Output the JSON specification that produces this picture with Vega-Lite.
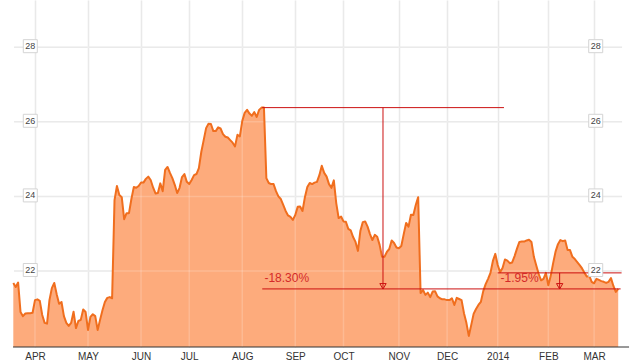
{
  "$schema": "https://vega.github.io/schema/vega-lite/v6.json",
  "width": 632,
  "height": 347,
  "autosize": {"type": "none"},
  "padding": {"left": 0, "top": 0, "right": 0, "bottom": 16},
  "background": "white",
  "config": {"view": {"stroke": null}, "font": "Liberation Sans"},
  "datasets": {
    "price": [
      {"t":0,"v":21.68},{"t":1,"v":21.57},{"t":2,"v":21.69},{"t":3,"v":20.90},{"t":4,"v":20.79},{"t":5,"v":20.86},{"t":6,"v":20.87},{"t":7,"v":20.87},{"t":8,"v":20.88},{"t":9,"v":21.22},
      {"t":10,"v":21.24},{"t":11,"v":21.20},{"t":12,"v":20.82},{"t":13,"v":20.61},{"t":14,"v":20.59},{"t":15,"v":21.22},{"t":16,"v":21.54},{"t":17,"v":21.68},{"t":18,"v":21.38},{"t":19,"v":21.12},
      {"t":20,"v":21.17},{"t":21,"v":20.79},{"t":22,"v":20.61},{"t":23,"v":20.53},{"t":24,"v":20.61},{"t":25,"v":20.91},{"t":26,"v":20.47},{"t":27,"v":20.66},{"t":28,"v":20.69},{"t":29,"v":20.97},
      {"t":30,"v":20.90},{"t":31,"v":20.42},{"t":32,"v":20.77},{"t":33,"v":20.84},{"t":34,"v":20.79},{"t":35,"v":20.42},{"t":36,"v":20.69},{"t":37,"v":20.95},{"t":38,"v":21.17},{"t":39,"v":21.28},
      {"t":40,"v":21.30},{"t":41,"v":21.27},{"t":42,"v":23.90},{"t":43,"v":24.28},{"t":44,"v":24.04},{"t":45,"v":23.98},{"t":46,"v":23.39},{"t":47,"v":23.55},{"t":48,"v":23.55},{"t":49,"v":23.93},
      {"t":50,"v":24.25},{"t":51,"v":24.23},{"t":52,"v":24.28},{"t":53,"v":24.37},{"t":54,"v":24.37},{"t":55,"v":24.47},{"t":56,"v":24.53},{"t":57,"v":24.44},{"t":58,"v":24.24},{"t":59,"v":24.08},
      {"t":60,"v":24.09},{"t":61,"v":24.35},{"t":62,"v":24.14},{"t":63,"v":24.71},{"t":64,"v":24.79},{"t":65,"v":24.63},{"t":66,"v":24.49},{"t":67,"v":24.31},{"t":68,"v":24.09},{"t":69,"v":24.23},
      {"t":70,"v":24.52},{"t":71,"v":24.60},{"t":72,"v":24.39},{"t":73,"v":24.33},{"t":74,"v":24.44},{"t":75,"v":24.57},{"t":76,"v":24.60},{"t":77,"v":24.76},{"t":78,"v":25.19},{"t":79,"v":25.51},
      {"t":80,"v":25.83},{"t":81,"v":25.95},{"t":82,"v":25.94},{"t":83,"v":25.75},{"t":84,"v":25.75},{"t":85,"v":25.85},{"t":86,"v":25.82},{"t":87,"v":25.67},{"t":88,"v":25.60},{"t":89,"v":25.58},
      {"t":90,"v":25.51},{"t":91,"v":25.44},{"t":92,"v":25.34},{"t":93,"v":25.65},{"t":94,"v":25.61},{"t":95,"v":26.02},{"t":96,"v":26.24},{"t":97,"v":26.32},{"t":98,"v":26.22},{"t":99,"v":26.16},
      {"t":100,"v":26.26},{"t":101,"v":26.13},{"t":102,"v":26.32},{"t":103,"v":26.38},{"t":104,"v":26.38},{"t":105,"v":24.49},{"t":106,"v":24.36},{"t":107,"v":24.33},{"t":108,"v":24.33},{"t":109,"v":24.14},
      {"t":110,"v":24.00},{"t":111,"v":23.93},{"t":112,"v":23.77},{"t":113,"v":23.61},{"t":114,"v":23.49},{"t":115,"v":23.45},{"t":116,"v":23.37},{"t":117,"v":23.50},{"t":118,"v":23.72},{"t":119,"v":23.73},
      {"t":120,"v":23.61},{"t":121,"v":23.98},{"t":122,"v":24.25},{"t":123,"v":24.36},{"t":124,"v":24.33},{"t":125,"v":24.37},{"t":126,"v":24.39},{"t":127,"v":24.57},{"t":128,"v":24.82},{"t":129,"v":24.63},
      {"t":130,"v":24.53},{"t":131,"v":24.33},{"t":132,"v":24.23},{"t":133,"v":24.43},{"t":134,"v":23.82},{"t":135,"v":23.42},{"t":136,"v":23.46},{"t":137,"v":23.33},{"t":138,"v":23.32},{"t":139,"v":23.13},
      {"t":140,"v":23.09},{"t":141,"v":22.91},{"t":142,"v":22.78},{"t":143,"v":22.54},{"t":144,"v":23.07},{"t":145,"v":23.31},{"t":146,"v":23.33},{"t":147,"v":23.19},{"t":148,"v":22.99},{"t":149,"v":22.83},
      {"t":150,"v":22.97},{"t":151,"v":22.92},{"t":152,"v":22.70},{"t":153,"v":22.38},{"t":154,"v":22.38},{"t":155,"v":22.51},{"t":156,"v":22.59},{"t":157,"v":22.82},{"t":158,"v":22.75},{"t":159,"v":22.63},
      {"t":160,"v":22.61},{"t":161,"v":22.67},{"t":162,"v":22.99},{"t":163,"v":23.29},{"t":164,"v":23.19},{"t":165,"v":23.51},{"t":166,"v":23.50},{"t":167,"v":23.77},{"t":168,"v":23.98},{"t":169,"v":21.41},
      {"t":170,"v":21.49},{"t":171,"v":21.36},{"t":172,"v":21.42},{"t":173,"v":21.30},{"t":174,"v":21.45},{"t":175,"v":21.46},{"t":176,"v":21.32},{"t":177,"v":21.27},{"t":178,"v":21.24},{"t":179,"v":21.24},
      {"t":180,"v":21.22},{"t":181,"v":21.22},{"t":182,"v":21.27},{"t":183,"v":21.09},{"t":184,"v":21.28},{"t":185,"v":21.25},{"t":186,"v":21.22},{"t":187,"v":20.87},{"t":188,"v":20.61},{"t":189,"v":20.26},
      {"t":190,"v":20.55},{"t":191,"v":20.85},{"t":192,"v":20.98},{"t":193,"v":21.09},{"t":194,"v":21.17},{"t":195,"v":21.46},{"t":196,"v":21.65},{"t":197,"v":21.79},{"t":198,"v":21.95},{"t":199,"v":22.27},
      {"t":200,"v":22.46},{"t":201,"v":22.16},{"t":202,"v":21.97},{"t":203,"v":22.08},{"t":204,"v":22.31},{"t":205,"v":22.28},{"t":206,"v":22.21},{"t":207,"v":22.23},{"t":208,"v":22.40},{"t":209,"v":22.60},
      {"t":210,"v":22.78},{"t":211,"v":22.79},{"t":212,"v":22.79},{"t":213,"v":22.82},{"t":214,"v":22.84},{"t":215,"v":22.78},{"t":216,"v":22.38},{"t":217,"v":22.15},{"t":218,"v":21.92},{"t":219,"v":21.75},
      {"t":220,"v":21.79},{"t":221,"v":21.95},{"t":222,"v":21.62},{"t":223,"v":21.87},{"t":224,"v":22.21},{"t":225,"v":22.52},{"t":226,"v":22.72},{"t":227,"v":22.83},{"t":228,"v":22.80},{"t":229,"v":22.82},
      {"t":230,"v":22.56},{"t":231,"v":22.56},{"t":232,"v":22.38},{"t":233,"v":22.32},{"t":234,"v":22.24},{"t":235,"v":22.16},{"t":236,"v":22.07},{"t":237,"v":21.95},{"t":238,"v":21.85},{"t":239,"v":21.87},
      {"t":240,"v":21.71},{"t":241,"v":21.67},{"t":242,"v":21.79},{"t":243,"v":21.76},{"t":244,"v":21.73},{"t":245,"v":21.71},{"t":246,"v":21.68},{"t":247,"v":21.71},{"t":248,"v":21.81},{"t":249,"v":21.60},
      {"t":250,"v":21.44},{"t":251,"v":21.52}
    ],
    "grid": [{"v":22},{"v":24},{"v":26},{"v":28}],
    "months": [{"t":9},{"t":31},{"t":53},{"t":73},{"t":95},{"t":117},{"t":137},{"t":160},{"t":180},{"t":201},{"t":222},{"t":241}],
    "segments": [
      {"t":103.3,"t2":203.6,"v":26.38,"v2":26.38},
      {"t":153.4,"t2":153.4,"v":26.38,"v2":21.52},
      {"t":103.3,"t2":252.0,"v":21.52,"v2":21.52},
      {"t":201.0,"t2":252.4,"v":21.95,"v2":21.95},
      {"t":226.7,"t2":226.7,"v":21.95,"v2":21.52}
    ],
    "arrows": [{"t":153.4,"v":21.59},{"t":226.7,"v":21.59}],
    "notes": [
      {"t":104.2,"v":21.705,"label":"-18.30%"},
      {"t":202.2,"v":21.705,"label":"-1.95%"}
    ]
  },
  "layer": [
    {
      "data": {"name": "grid"},
      "mark": {"type": "rule", "color": "#e6e6e6", "strokeWidth": 1.5},
      "encoding": {
        "x": {
          "datum": 0.3, "type": "quantitative",
          "scale": {"domain": [-5.519, 256.72], "nice": false, "zero": false},
          "axis": {
            "title": null,
            "values": [9,31,53,73,95,117,137,160,180,201,222,241],
            "labelExpr": "['APR','MAY','JUN','JUL','AUG','SEP','OCT','NOV','DEC','2014','FEB','MAR'][indexof([9,31,53,73,95,117,137,160,180,201,222,241], datum.value)]",
            "grid": true, "gridColor": "#e6e6e6", "gridWidth": 1.5,
            "domain": false, "ticks": false, "tickSize": 0,
            "labelFont": "Liberation Sans", "labelFontSize": 10, "labelColor": "#333333",
            "labelPadding": 4, "labelFlush": false, "labelOverlap": false
          }
        },
        "x2": {"datum": 252.6},
        "y": {"field": "v", "type": "quantitative", "scale": {"domain": [19.963, 29.265], "nice": false, "zero": false}, "axis": null}
      }
    },
    {
      "data": {"name": "price"},
      "mark": {"type": "area", "color": "#fdab7c", "opacity": 1},
      "encoding": {
        "x": {"field": "t", "type": "quantitative", "title": null},
        "y": {"field": "v", "type": "quantitative", "axis": null},
        "y2": {"datum": 19.963}
      }
    },
    {
      "data": {"name": "months"},
      "mark": {"type": "rule", "color": "white", "strokeWidth": 1.5, "opacity": 0.18},
      "encoding": {
        "x": {"field": "t", "type": "quantitative", "title": null},
        "y": {"datum": 19.963, "type": "quantitative", "axis": null},
        "y2": {"datum": 29.265}
      }
    },
    {
      "data": {"name": "grid"},
      "mark": {"type": "rule", "color": "white", "strokeWidth": 1.5, "opacity": 0.18},
      "encoding": {
        "x": {"datum": 0.3, "type": "quantitative", "title": null},
        "x2": {"datum": 252.6},
        "y": {"field": "v", "type": "quantitative", "axis": null}
      }
    },
    {
      "data": {"name": "price"},
      "mark": {"type": "line", "color": "#f06e1e", "strokeWidth": 2, "strokeJoin": "round"},
      "encoding": {
        "x": {"field": "t", "type": "quantitative", "title": null},
        "y": {"field": "v", "type": "quantitative", "axis": null}
      }
    },
    {
      "data": {"values": [{}]},
      "mark": {"type": "rule", "color": "#333333", "strokeWidth": 1},
      "encoding": {
        "x": {"datum": -0.1, "type": "quantitative", "title": null},
        "x2": {"datum": 255.5},
        "y": {"datum": 19.963, "type": "quantitative", "axis": null}
      }
    },
    {
      "data": {"name": "segments"},
      "mark": {"type": "rule", "color": "#cc1111", "strokeWidth": 1},
      "encoding": {
        "x": {"field": "t", "type": "quantitative", "title": null},
        "x2": {"field": "t2"},
        "y": {"field": "v", "type": "quantitative", "axis": null},
        "y2": {"field": "v2"}
      }
    },
    {
      "data": {"name": "arrows"},
      "mark": {"type": "point", "shape": "triangle-down", "size": 40, "filled": false, "stroke": "#cc1111", "strokeWidth": 1, "opacity": 1},
      "encoding": {
        "x": {"field": "t", "type": "quantitative", "title": null},
        "y": {"field": "v", "type": "quantitative", "axis": null}
      }
    },
    {
      "data": {"name": "notes"},
      "mark": {"type": "text", "align": "left", "baseline": "alphabetic", "fontSize": 12, "color": "#d42a2a", "font": "Liberation Sans"},
      "encoding": {
        "x": {"field": "t", "type": "quantitative", "title": null},
        "y": {"field": "v", "type": "quantitative", "axis": null},
        "text": {"field": "label"}
      }
    },
    {
      "data": {"name": "grid"},
      "mark": {"type": "point", "shape": "M-1,-0.93L1,-0.93L1,0.93L-1,0.93Z", "size": 196, "filled": true, "fill": "white", "stroke": "#d4d4d4", "strokeWidth": 1, "opacity": 1, "yOffset": -1},
      "encoding": {
        "x": {"datum": 7.05, "type": "quantitative", "title": null},
        "y": {"field": "v", "type": "quantitative", "axis": null}
      }
    },
    {
      "data": {"name": "grid"},
      "mark": {"type": "point", "shape": "M-1,-0.93L1,-0.93L1,0.93L-1,0.93Z", "size": 196, "filled": true, "fill": "white", "stroke": "#d4d4d4", "strokeWidth": 1, "opacity": 1, "yOffset": -1},
      "encoding": {
        "x": {"datum": 241.66, "type": "quantitative", "title": null},
        "y": {"field": "v", "type": "quantitative", "axis": null}
      }
    },
    {
      "data": {"name": "grid"},
      "mark": {"type": "text", "align": "center", "baseline": "middle", "fontSize": 9, "color": "#444444", "font": "Liberation Sans", "dy": -1},
      "encoding": {
        "x": {"datum": 7.05, "type": "quantitative", "title": null},
        "y": {"field": "v", "type": "quantitative", "axis": null},
        "text": {"field": "v"}
      }
    },
    {
      "data": {"name": "grid"},
      "mark": {"type": "text", "align": "center", "baseline": "middle", "fontSize": 9, "color": "#444444", "font": "Liberation Sans", "dy": -1},
      "encoding": {
        "x": {"datum": 241.66, "type": "quantitative", "title": null},
        "y": {"field": "v", "type": "quantitative", "axis": null},
        "text": {"field": "v"}
      }
    }
  ]
}
